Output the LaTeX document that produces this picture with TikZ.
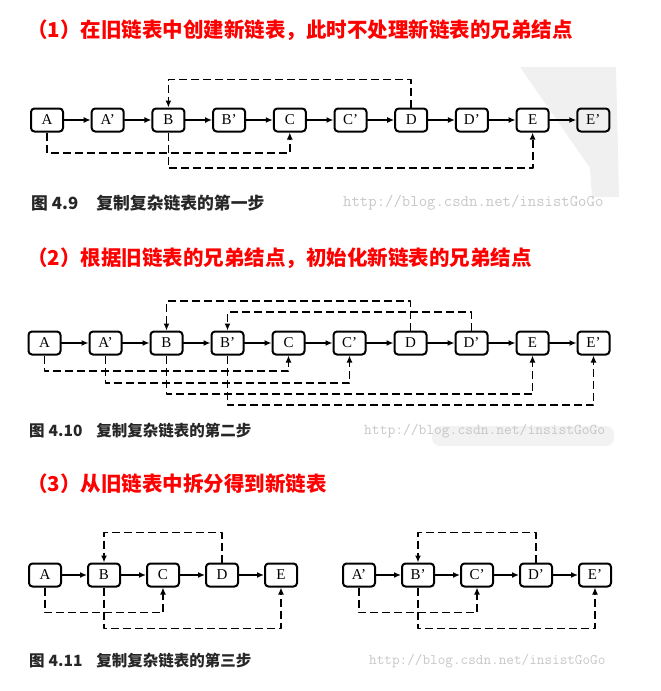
\documentclass[tikz,border=0pt]{standalone}
\usepackage{fontspec}
\setmainfont{Liberation Serif}
\newfontfamily\cjk{Noto Sans CJK SC}
\usepackage{xcolor}
\usepackage{tikz}
\usetikzlibrary{arrows.meta}

\begin{document}
\begin{tikzpicture}[x=1pt, y=-1pt, line cap=round, line join=round,
  lnode/.style={draw, line width=2pt, rounded corners=3.5pt, minimum width=32pt,
    minimum height=23pt, inner sep=0pt, font=\fontsize{15}{15}\selectfont},
  nxt/.style={line width=1.5pt, -{Latex[length=7pt,width=6pt]}},
  sib/.style={line width=1.8pt, line cap=butt, dash pattern=on 8pt off 4pt,
    -{Latex[length=7pt,width=6pt]}},
  ttl/.style={anchor=west, inner sep=0pt, text=red, font=\cjk\bfseries\fontsize{20.5}{21}\selectfont},
  cap/.style={anchor=west, inner sep=0pt, text=black!85, font=\cjk\bfseries\fontsize{#1}{#1}\selectfont},
  url/.style={anchor=west, inner sep=0pt, text=black!22, font=\ttfamily\fontsize{#1}{#1}\selectfont}]
  \useasboundingbox (0,0) rectangle (661,691);
  \fill[black!6] (520,67) -- (616,67) -- (619,197) -- (592,197) -- (590,168) -- cycle;
  \fill[black!5, rounded corners=8pt] (432,426) rectangle (614,446);

  % (1)
  \node[ttl] (t1) at (27,30) {（1）在旧链表中创建新链表，此时不处理新链表的兄弟结点};
  \def\rowa{A,A’,B,B’,C,C’,D,D’,E,E’}
  \foreach \t [count=\i from 0] in \rowa
    \node[lnode] (a\i) at (47+60.7*\i,120) {\t};
  \foreach \i [evaluate=\i as \j using int(\i+1)] in {0,...,8}
    \draw[nxt] (a\i) -- (a\j);
  \draw[sib] (a6.north) -- ++(0,-28) -| (a2.north);
  \draw[sib] (a0.south) -- ++(0,20.5) -| (a4.south);
  \draw[sib] (a2.south) -- ++(0,35.5) -| (a8.south);
  \node[cap=16.8] (f1) at (31,203) {图\hspace{4pt}4.9\hspace{18pt}复制复杂链表的第一步};
  \node[url=16.3] (u1) at (343,203) {http://blog.csdn.net/insistGoGo};

  % (2)
  \node[ttl] (t2) at (27,258) {（2）根据旧链表的兄弟结点，初始化新链表的兄弟结点};
  \foreach \t [count=\i from 0] in \rowa
    \node[lnode] (b\i) at (44.5+61*\i,343) {\t};
  \foreach \i [evaluate=\i as \j using int(\i+1)] in {0,...,8}
    \draw[nxt] (b\i) -- (b\j);
  \draw[sib] (b6.north) -- ++(0,-29.5) -| (b2.north);
  \draw[sib] (b7.north) -- ++(0,-18.5) -| (b3.north);
  \draw[sib] (b0.south) -- ++(0,15.5) -| (b4.south);
  \draw[sib] (b1.south) -- ++(0,27.5) -| (b5.south);
  \draw[sib] (b2.south) -- ++(0,38.5) -| (b8.south);
  \draw[sib] (b3.south) -- ++(0,49.5) -| (b9.south);
  \node[cap=15.5] (f2) at (29,431) {图\hspace{4pt}4.10\hspace{14pt}复制复杂链表的第二步};
  \node[url=15.1] (u2) at (364,431) {http://blog.csdn.net/insistGoGo};

  % (3)
  \node[ttl] (t3) at (27,484) {（3）从旧链表中拆分得到新链表};
  \foreach \t [count=\i from 0] in {A,B,C,D,E}
    \node[lnode] (c\i) at (45+59*\i,575) {\t};
  \foreach \t [count=\i from 0] in {A’,B’,C’,D’,E’}
    \node[lnode] (d\i) at (359+59*\i,575) {\t};
  \foreach \i [evaluate=\i as \j using int(\i+1)] in {0,...,3} {
    \draw[nxt] (c\i) -- (c\j);
    \draw[nxt] (d\i) -- (d\j);
  }
  \foreach \r in {c,d} {
    \draw[sib] (\r3.north) -- ++(0,-30) -| (\r1.north);
    \draw[sib] (\r0.south) -- ++(0,25) -| (\r2.south);
    \draw[sib] (\r1.south) -- ++(0,41) -| (\r4.south);
  }
  \node[cap=15.5] (f3) at (29,661) {图\hspace{4pt}4.11\hspace{14pt}复制复杂链表的第三步};
  \node[url=14.8] (u3) at (369,661) {http://blog.csdn.net/insistGoGo};
\end{tikzpicture}
\end{document}
